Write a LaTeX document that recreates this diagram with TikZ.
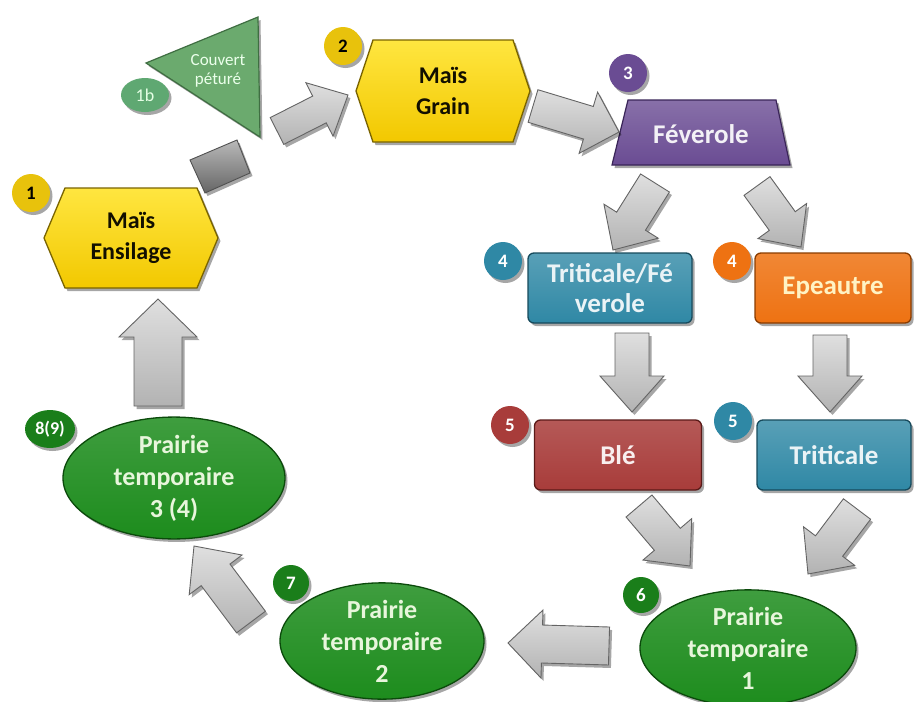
\documentclass[tikz,border=0pt]{standalone}
\usepackage{fontspec}
\setmainfont{Carlito}
\usetikzlibrary{calc,shadows,shapes.geometric}
\definecolor{yelT}{HTML}{FFE640}
\definecolor{yelM}{HTML}{F2C800}
\definecolor{yelB}{HTML}{7A6400}
\definecolor{badgeY}{HTML}{E8C20C}
\definecolor{triG}{HTML}{6BAA6E}
\definecolor{triB}{HTML}{3F6E42}
\definecolor{badgeLG}{HTML}{5FA872}
\definecolor{purp}{HTML}{6A4C93}
\definecolor{purpB}{HTML}{3A2558}
\definecolor{teal}{HTML}{2F88A5}
\definecolor{tealB}{HTML}{174A5C}
\definecolor{orng}{HTML}{EE7212}
\definecolor{orngB}{HTML}{8A3C00}
\definecolor{redd}{HTML}{A83C3A}
\definecolor{reddB}{HTML}{5A1A18}
\definecolor{grn}{HTML}{1D8C1D}
\definecolor{grnB}{HTML}{0B4A0B}
\definecolor{badgeG}{HTML}{1A7E1A}
\definecolor{arrB}{HTML}{646464}
\definecolor{txtG}{HTML}{E8F6DC}
\definecolor{txtY}{HTML}{FFF3C4}
\newcommand{\blockarrow}[5]{%
  \coordinate (bhA) at ($(#2)!#5!(#1)$);
  \draw[garrow] ($(#1)!#3!90:(#2)$) -- ($(bhA)!#3!90:(#2)$) -- ($(bhA)!#4!90:(#2)$) -- (#2)
    -- ($(bhA)!#4!-90:(#2)$) -- ($(bhA)!#3!-90:(#2)$) -- ($(#1)!#3!-90:(#2)$) -- cycle;}
\newcommand{\hexpath}[5]{% center, half width, top half width, half height, style
  \draw[#5] ($(#1)+(-#2,0)$) -- ($(#1)+(-#3,-#4)$) -- ($(#1)+(#3,-#4)$) -- ($(#1)+(#2,0)$)
    -- ($(#1)+(#3,#4)$) -- ($(#1)+(-#3,#4)$) -- cycle;}
\tikzset{
  shad/.style={drop shadow={shadow xshift=2.5pt,shadow yshift=-3pt,opacity=0.35,fill=black}},
  garrow/.style={draw=arrB, line width=0.9pt, top color=gray!25, bottom color=gray!60, shad},
  yshape/.style={draw=yelB, line width=1.3pt, top color=yelT, bottom color=yelM, shad},
  lblK/.style={font=\bfseries\fontsize{24}{31}\selectfont, align=center, inner sep=0pt, text=black!85!yelB},
  lblW/.style={font=\bfseries\fontsize{27}{30}\selectfont, align=center, inner sep=0pt, text=white!92!purp},
  box/.style={rectangle, rounded corners=6pt, line width=1.3pt, minimum height=70pt, shad,
     font=\bfseries\fontsize{27}{30}\selectfont, align=center, inner sep=0pt},
  oval/.style={ellipse, draw=grnB, line width=1.3pt, top color=grn!85!white, bottom color=grn, shad,
     font=\bfseries\fontsize{26}{32}\selectfont, align=center, inner sep=0pt, text=txtG},
  badge/.style={circle, minimum size=38pt, inner sep=0pt, font=\bfseries\fontsize{19}{19}\selectfont, shad},
}
\begin{document}
\begin{tikzpicture}[x=1pt,y=-1pt]
\useasboundingbox (0,0) rectangle (914,702);
\fill[white] (0,0) rectangle (914,702);

% ---- shapes ----
\coordinate (cEns) at (131,238);
\hexpath{cEns}{87}{66}{50}{yshape}
\node[lblK] (ens) at (cEns) {Maïs\\Ensilage};

\coordinate (cGr) at (443,91);
\hexpath{cGr}{87}{70}{51}{yshape}
\node[lblK] (grain) at (cGr) {Maïs\\Grain};

\draw[draw=triB, line width=1.2pt, fill=triG, shad] (146,63) -- (258,17) -- (260,137) -- cycle;
\node[font=\fontsize{17}{19}\selectfont, align=center, text=white!92!green, inner sep=0pt] (couv) at (218,71) {Couvert\\péturé};

\draw[draw=purpB, line width=1.2pt, top color=purp!80!white, bottom color=purp, shad]
  (628,100) -- (776,100) -- (790,165) -- (612,165) -- cycle;
\node[lblW] (fev) at (701,134) {Féverole};

\node[box, draw=tealB, top color=teal!80!white, bottom color=teal, text=white!90!teal, minimum width=164pt] (trif) at (610,288) {Triticale/Fé\\verole};
\node[box, draw=orngB, top color=orng!85!white, bottom color=orng, text=txtY, minimum width=156pt] (epe) at (833,288) {Epeautre};
\node[box, draw=reddB, top color=redd!85!white, bottom color=redd, text=white!92!redd, minimum width=167pt] (ble) at (618,455) {Blé};
\node[box, draw=tealB, top color=teal!80!white, bottom color=teal, text=white!90!teal, minimum width=154pt] (trit) at (834,455) {Triticale};

\node[oval, minimum width=216pt, minimum height=110pt] (pt1) at (748,648) {Prairie\\temporaire\\1};
\node[oval, minimum width=204pt, minimum height=112pt] (pt2) at (382,641) {Prairie\\temporaire\\2};
\node[oval, minimum width=222pt, minimum height=112pt] (pt3) at (174,478) {Prairie\\temporaire\\3 (4)};

% ---- badges ----
\node[badge, fill=badgeY, text=black] (b1) at (31,193) {1};
\node[badge, ellipse, minimum width=48pt, minimum height=34pt, fill=badgeLG, text=white!90!green, font=\fontsize{18}{18}\selectfont] (b1b) at (145,95) {1b};
\node[badge, fill=badgeY, text=black] (b2) at (343,46) {2};
\node[badge, fill=purp, text=white] (b3) at (628,73) {3};
\node[badge, fill=teal, text=white] (b4a) at (503,261) {4};
\node[badge, fill=orng, text=white] (b4b) at (732,261) {4};
\node[badge, fill=redd, text=white] (b5a) at (510,425) {5};
\node[badge, fill=teal, text=white] (b5b) at (733,421) {5};
\node[badge, fill=badgeG, text=white, minimum size=36pt] (b6) at (641,595) {6};
\node[badge, fill=badgeG, text=white, minimum size=36pt] (b7) at (291,583) {7};
\node[badge, ellipse, minimum width=50pt, minimum height=38pt, fill=badgeG, text=white, font=\bfseries\fontsize{18}{18}\selectfont] (b8) at (50,429) {8(9)};

% ---- arrows ----
\draw[draw=arrB!80!black, line width=0.9pt, top color=gray!55, bottom color=gray!80!black, shad]
  (190,160) -- (237,140) -- (250,173) -- (205,193) -- cycle;

\coordinate (t1) at (277,131); \coordinate (h1) at (348,95);
\coordinate (t2) at (533,106); \coordinate (h2) at (619,132);
\coordinate (t3) at (655,183); \coordinate (h3) at (613,250);
\coordinate (t4) at (757,186); \coordinate (h4) at (801,247);
\coordinate (t5) at (632,333); \coordinate (h5) at (632,412);
\coordinate (t6) at (830,335); \coordinate (h6) at (830,412);
\coordinate (t7) at (639,506); \coordinate (h7) at (690,566);
\coordinate (t8) at (857,509); \coordinate (h8) at (808,574);
\coordinate (t9) at (609,646); \coordinate (h9) at (508,643);
\coordinate (t10) at (251,622); \coordinate (h10) at (194,546);
\coordinate (t11) at (158,406); \coordinate (h11) at (158,299);

\blockarrow{t1}{h1}{15pt}{30pt}{32pt}
\blockarrow{t2}{h2}{17pt}{32pt}{32pt}
\blockarrow{t3}{h3}{17pt}{32pt}{34pt}
\blockarrow{t4}{h4}{16pt}{30pt}{32pt}
\blockarrow{t5}{h5}{17pt}{32pt}{36pt}
\blockarrow{t6}{h6}{17pt}{32pt}{36pt}
\blockarrow{t7}{h7}{17pt}{32pt}{35pt}
\blockarrow{t8}{h8}{17pt}{32pt}{35pt}
\blockarrow{t9}{h9}{19pt}{34pt}{34pt}
\blockarrow{t10}{h10}{18pt}{33pt}{36pt}
\blockarrow{t11}{h11}{24pt}{39pt}{38pt}
\end{tikzpicture}
\end{document}
